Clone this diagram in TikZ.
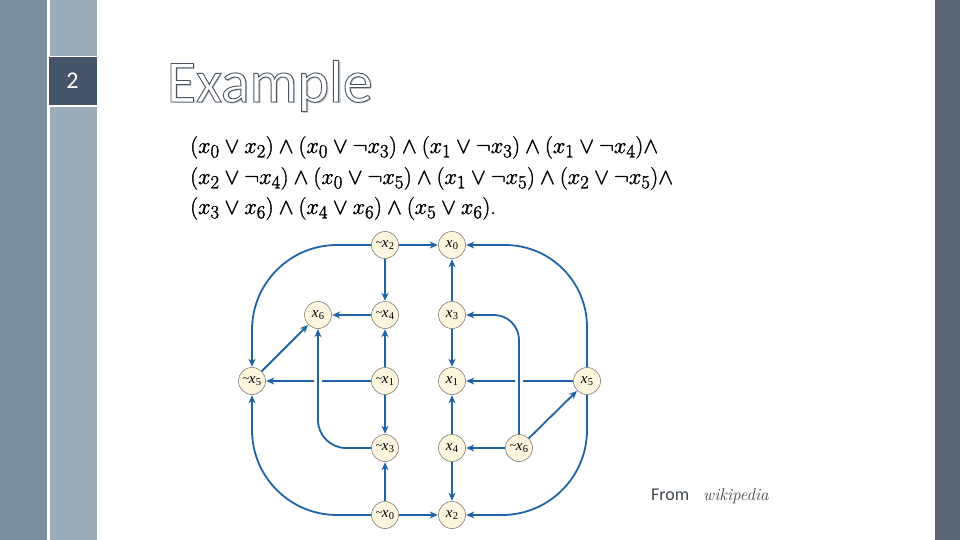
\documentclass[tikz,border=0pt]{standalone}
\usepackage{fontspec}
\usetikzlibrary{arrows.meta}
\newfontfamily\carl{Carlito}
\newfontfamily\lser{Liberation Serif}
\definecolor{bandA}{HTML}{7B8EA0}
\definecolor{bandB}{HTML}{9CACB9}
\definecolor{boxc}{HTML}{44546A}
\definecolor{bandR}{HTML}{5B6672}
\definecolor{titlec}{HTML}{4A5560}
\definecolor{shadowc}{HTML}{BCC1C6}
\definecolor{edgec}{HTML}{2064A8}
\definecolor{nodef}{HTML}{FCF6DE}
\definecolor{nodeb}{HTML}{6A6A60}
\definecolor{fromc}{HTML}{404850}
\newcommand{\vx}[1]{\textit{x}\kern0.3pt\raisebox{-0.35ex}{\fontsize{10.5}{10.5}\selectfont #1}}
\newcommand{\nvx}[1]{\raisebox{0.1ex}{\fontsize{12}{12}\selectfont\string~}\kern-0.5pt\vx{#1}}
\newcommand{\heavy}[1]{\scalebox{0.898}{\special{pdf:literal direct 2 Tr 0.38 w}#1\special{pdf:literal direct 0 Tr}}}
\tikzset{
  vnode/.style={circle, draw=nodeb, fill=nodef, line width=0.5pt, minimum size=27pt, inner sep=0pt, font=\lser\fontsize{15}{15}\selectfont},
  edge/.style={draw=edgec, line width=1.8pt, -{Stealth[length=8pt,width=7pt]}, shorten >=0.5pt},
  gapbox/.style={fill=white, minimum width=8pt, minimum height=4pt, inner sep=0pt},
  formula/.style={anchor=base west, inner sep=0pt, font=\fontsize{24.88}{24.88}\selectfont}
}
\begin{document}
\begin{tikzpicture}[x=1pt,y=-1pt]
\useasboundingbox (0,0) rectangle (960,540);
\fill[white] (0,0) rectangle (960,540);
\fill[bandA] (0,0) rectangle (47,540);
\fill[bandB] (50,0) rectangle (97,540);
\fill[white] (47,56) rectangle (98,107);
\fill[boxc] (48.5,57.5) rectangle (96.5,105.5);
\fill[bandR] (935,0) rectangle (960,540);
\node[text=white, font=\carl\fontsize{24}{24}\selectfont] (num) at (72.5,81) {2};
% title
\node[anchor=base west, inner sep=0pt, text=shadowc, font=\carl\fontsize{60}{60}\selectfont] (titlesh) at (168.5,104) {Example};
\node[anchor=base west, inner sep=0pt, font=\carl\fontsize{60}{60}\selectfont] (title) at (166.5,102) {\color{titlec}\special{pdf:literal direct 2 Tr 0.9 w 1 1 1 rg}Example\special{pdf:literal direct 0 Tr}};
% formula
\node[formula] (f1) at (190,153) {\heavy{$(x_0 \vee x_2) \wedge (x_0 \vee \neg x_3) \wedge (x_1 \vee \neg x_3) \wedge (x_1 \vee \neg x_4)\wedge$}};
\node[formula] (f2) at (190,184) {\heavy{$(x_2 \vee \neg x_4) \wedge (x_0 \vee \neg x_5) \wedge (x_1 \vee \neg x_5) \wedge (x_2 \vee \neg x_5)\wedge$}};
\node[formula] (f3) at (190,214) {\heavy{$(x_3 \vee x_6) \wedge (x_4 \vee x_6) \wedge (x_5 \vee x_6)$.}};
% graph nodes
\node[vnode] (n2) at (385,245) {\nvx{2}};
\node[vnode] (p0) at (452,245) {\vx{0}};
\node[vnode] (p6) at (318,315) {\vx{6}};
\node[vnode] (n4) at (385,315) {\nvx{4}};
\node[vnode] (p3) at (452,315) {\vx{3}};
\node[vnode] (n5) at (252,381) {\nvx{5}};
\node[vnode] (n1) at (385,381) {\nvx{1}};
\node[vnode] (p1) at (452,381) {\vx{1}};
\node[vnode] (p5) at (587,381) {\vx{5}};
\node[vnode] (n3) at (385,448) {\nvx{3}};
\node[vnode] (p4) at (452,448) {\vx{4}};
\node[vnode] (n6) at (519,448) {\nvx{6}};
\node[vnode] (n0) at (385,515) {\nvx{0}};
\node[vnode] (p2) at (452,515) {\vx{2}};
% edges
\draw[edge] (n2) -- (p0);
\draw[edge] (n2) -- (n4);
\draw[edge, rounded corners=85pt] (n2.west) -| (n5.north);
\draw[edge] (n4) -- (p6);
\draw[edge] (n1) -- (n4);
\draw[edge] (n5) -- (p6);
\draw[edge] (n1) -- (n5);
\node[gapbox] (g1) at (p6 |- n1) {};
\draw[edge, rounded corners=28pt] (n3.west) -| (p6.south);
\draw[edge] (n1) -- (n3);
\draw[edge] (n0) -- (n3);
\draw[edge, rounded corners=85pt] (n0.west) -| (n5.south);
\draw[edge] (n0) -- (p2);
\draw[edge] (p3) -- (p0);
\draw[edge] (p3) -- (p1);
\draw[edge, rounded corners=82pt] (p5.north) |- (p0.east);
\draw[edge] (p5) -- (p1);
\node[gapbox] (g2) at (n6 |- p1) {};
\draw[edge, rounded corners=25pt] (n6.north) |- (p3.east);
\draw[edge] (n6) -- (p5);
\draw[edge] (n6) -- (p4);
\draw[edge] (p4) -- (p1);
\draw[edge] (p4) -- (p2);
\draw[edge, rounded corners=85pt] (p5.south) |- (p2.east);
% source
\node[anchor=base west, inner sep=0pt, text=fromc, font=\carl\fontsize{18}{18}\selectfont] (from) at (651,500) {From};
\node[anchor=base west, inner sep=0pt, text=fromc, font=\fontsize{17}{17}\selectfont\itshape] (wiki) at (703,500) {wikipedia};
\end{tikzpicture}
\end{document}
